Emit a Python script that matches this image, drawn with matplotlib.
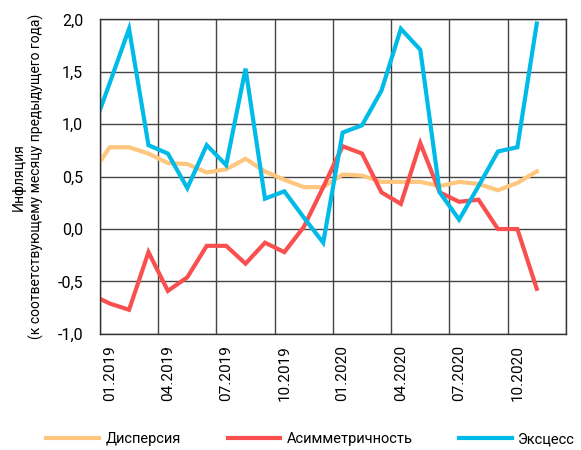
import matplotlib.pyplot as plt
from matplotlib.ticker import FuncFormatter, MultipleLocator

plt.rcParams['font.family'] = ['Roboto', 'DejaVu Sans']

# months: 12.2018 (clipped at left edge) .. 11.2020
months = list(range(-1, 23))
tick_pos = [0, 3, 6, 9, 12, 15, 18, 21]
tick_labels = ['01.2019', '04.2019', '07.2019', '10.2019',
               '01.2020', '04.2020', '07.2020', '10.2020']

dispersion = [0.50, 0.78, 0.78, 0.72, 0.63, 0.62, 0.54, 0.57, 0.67, 0.55, 0.47,
              0.40, 0.40, 0.52, 0.51, 0.45, 0.45, 0.45, 0.41, 0.45, 0.43, 0.37,
              0.44, 0.55]
asymmetry = [-0.62, -0.71, -0.77, -0.22, -0.59, -0.46, -0.16, -0.16, -0.33, -0.13,
             -0.22, 0.02, 0.40, 0.79, 0.72, 0.35, 0.24, 0.82, 0.35, 0.26, 0.28,
             0.00, 0.00, -0.57]
kurtosis = [0.88, 1.39, 1.91, 0.80, 0.72, 0.39, 0.80, 0.61, 1.53, 0.29, 0.36,
            0.11, -0.13, 0.92, 0.99, 1.32, 1.91, 1.71, 0.35, 0.09, 0.41, 0.74,
            0.78, 1.96]

fig = plt.figure(figsize=(5.81, 4.5), dpi=100)
ax = fig.add_axes([0.172, 0.258, 0.802, 0.699])

ax.plot(months, dispersion, color='#FFC67E', lw=3, label='Дисперсия', solid_joinstyle='miter')
ax.plot(months, asymmetry, color='#F9504F', lw=3, label='Асимметричность', solid_joinstyle='miter')
ax.plot(months, kurtosis, color='#00BBE8', lw=3, label='Эксцесс', solid_joinstyle='miter')

ax.set_xlim(-0.5, 23.5)
ax.set_ylim(-1.0, 2.0)
ax.set_xticks(tick_pos)
ax.set_xticklabels(tick_labels, rotation=90, fontsize=11)
ax.set_xticks([x - 0.5 for x in range(0, 25, 3)], minor=True)
ax.yaxis.set_major_locator(MultipleLocator(0.5))
ax.yaxis.set_major_formatter(FuncFormatter(lambda v, p: f'{v:.1f}'.replace('.', ',')))
ax.tick_params(axis='x', which='both', length=0, pad=8)
ax.tick_params(axis='y', length=0, pad=12, labelsize=11.5)
ax.grid(True, axis='x', which='minor', color='#444444', lw=1)
ax.grid(True, axis='y', which='major', color='#444444', lw=1)
ax.grid(False, axis='x', which='major')
for s in ax.spines.values():
    s.set_color('#333333')
    s.set_linewidth(1)

fig.text(0.048, 0.607, 'Инфляция\n(к соответствующему месяцу предыдущего года)',
         rotation=90, ha='center', va='center', fontsize=10, linespacing=1.3)

fig.legend(loc='center left', bbox_to_anchor=(0.08, 0.024), ncol=3, frameon=False,
           fontsize=10.5, handlelength=3.6, columnspacing=3.2, handletextpad=0.45,
           borderpad=0, borderaxespad=0)

fig.savefig('out.png', dpi=100)
